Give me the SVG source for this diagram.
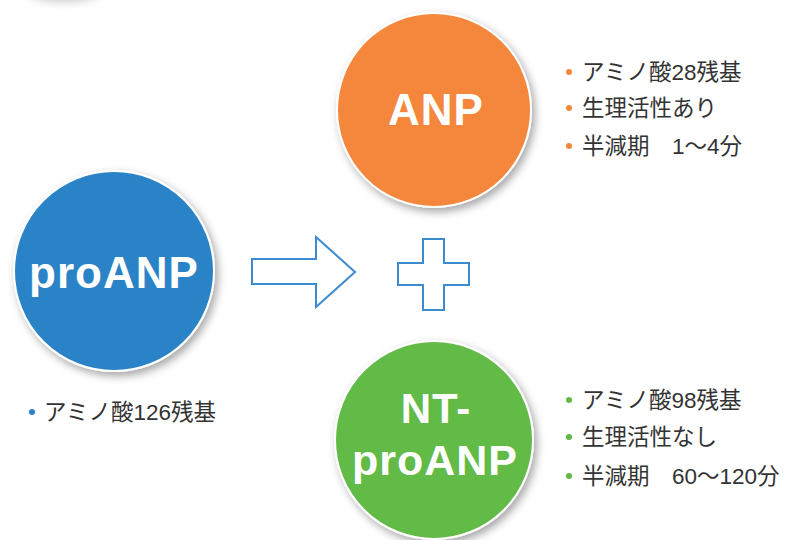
<svg xmlns="http://www.w3.org/2000/svg" width="789" height="540" viewBox="0 0 789 540">
<defs>
<filter id="sh" x="-20%" y="-20%" width="150%" height="150%">
<feDropShadow dx="3" dy="4" stdDeviation="4" flood-color="#000" flood-opacity="0.35"/>
</filter>
<filter id="blur" x="-50%" y="-50%" width="200%" height="200%">
<feGaussianBlur stdDeviation="4"/>
</filter>
<style>
.lbl{font-family:"Liberation Sans","DejaVu Sans",sans-serif;font-weight:bold;fill:#fff;text-anchor:middle;letter-spacing:1px}
.txt{font-family:"Liberation Sans","Noto Sans CJK JP",sans-serif;font-size:22.5px;fill:#333}
.shape{fill:#fff;stroke:#3b8bd0;stroke-width:2}
.circ{stroke:#fff;stroke-width:2;filter:url(#sh)}
</style>
</defs>
<rect width="789" height="540" fill="#fff"/>
<ellipse cx="64" cy="-12" rx="40" ry="14" fill="#999" opacity="0.5" filter="url(#blur)"/>
<g id="proANP">
<circle class="circ" cx="114" cy="271" r="100" fill="#2983c7"/>
<text class="lbl" x="114" y="288" font-size="44">proANP</text>
<circle cx="32" cy="412" r="3" fill="#2a83c6"/>
<text class="txt" x="44" y="420">アミノ酸126残基</text>
</g>
<g id="ANP">
<circle class="circ" cx="434" cy="110" r="97" fill="#f5873d"/>
<text class="lbl" x="436" y="125" font-size="44">ANP</text>
<circle cx="569" cy="72" r="3" fill="#f5873c"/>
<text class="txt" x="582" y="80">アミノ酸28残基</text>
<circle cx="569" cy="108" r="3" fill="#f5873c"/>
<text class="txt" x="582" y="116">生理活性あり</text>
<circle cx="569" cy="146" r="3" fill="#f5873c"/>
<text class="txt" x="582" y="154">半減期　1〜4分</text>
</g>
<g id="NT-proANP">
<circle class="circ" cx="434" cy="440" r="99" fill="#62ba47"/>
<text class="lbl" x="436" y="423" font-size="42">NT-</text>
<text class="lbl" x="435" y="475" font-size="43">proANP</text>
<circle cx="569" cy="400" r="3" fill="#62b946"/>
<text class="txt" x="582" y="408">アミノ酸98残基</text>
<circle cx="569" cy="437" r="3" fill="#62b946"/>
<text class="txt" x="582" y="445">生理活性なし</text>
<circle cx="569" cy="476" r="3" fill="#62b946"/>
<text class="txt" x="582" y="484">半減期　60〜120分</text>
</g>
<g id="connectors">
<polygon class="shape" points="252,259 316,259 316,237 355,272 316,307 316,284 252,284"/>
<polygon class="shape" points="423,239 444,239 444,263 469,263 469,285 444,285 444,310 423,310 423,285 398,285 398,263 423,263"/>
</g>
</svg>
